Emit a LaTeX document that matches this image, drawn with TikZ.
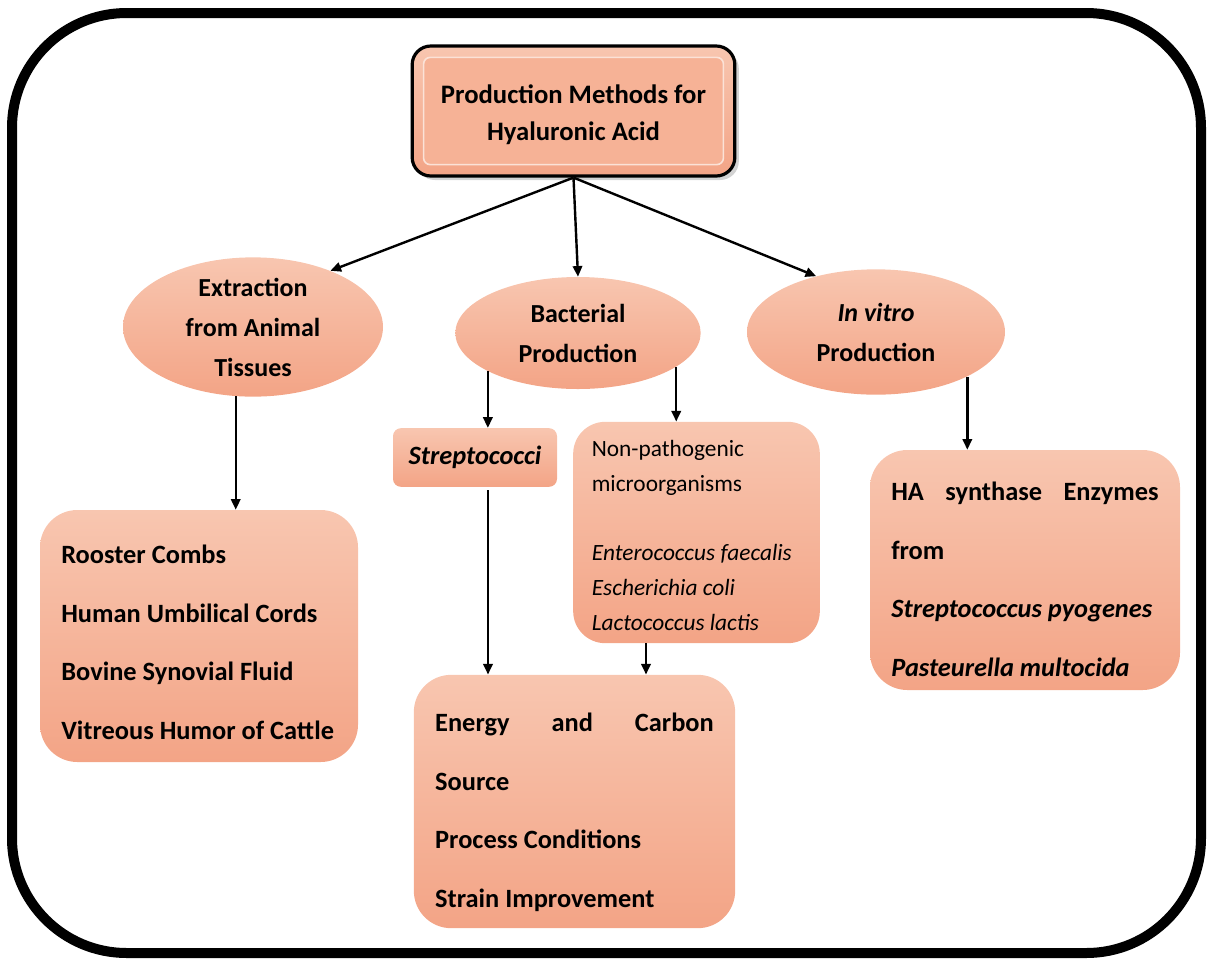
\documentclass[tikz,border=0pt]{standalone}
\usepackage{fontspec}
\setmainfont{Carlito}
\usetikzlibrary{arrows.meta,shapes.geometric,shadows,calc}
\definecolor{salL}{RGB}{248,198,176}
\definecolor{salD}{RGB}{243,164,134}
\definecolor{salM}{RGB}{246,178,150}
\begin{document}
\begin{tikzpicture}[x=0.75pt,y=-0.75pt,
  fillsal/.style={top color=salL,bottom color=salD},
  card/.style={fillsal, rounded corners=28pt, inner xsep=16pt, inner ysep=0pt, align=flush left, anchor=center,
     font=\bfseries\fontsize{19.8}{44}\selectfont},
  oval/.style={ellipse, fillsal, inner sep=0pt, align=center, minimum width=195pt, minimum height=94pt,
     font=\bfseries\fontsize{19.5}{30}\selectfont},
  arr/.style={-{Triangle[length=8pt,width=7pt]}, line width=1.8pt},
]
\useasboundingbox (0,0) rectangle (1208,958);
% outer frame
\draw[line width=7.5pt, rounded corners=86pt] (12,13) rectangle (1201,953);

% title box
\node[fillsal, draw=black, line width=2.4pt, rounded corners=14pt, minimum width=242pt, minimum height=97.5pt,
  drop shadow={shadow xshift=3pt, shadow yshift=-3pt, opacity=0.35}] (top) at (573.5,111) {};
\draw[fill=salM, draw=salL!50!white, line width=1.2pt, rounded corners=5pt]
  ($(top.north west)+(13,13)$) rectangle ($(top.south east)+(-13,-13)$);
\node[align=center, font=\bfseries\fontsize{20}{28}\selectfont] (toptext) at ($(top.center)+(0,4)$)
  {Production Methods for\\Hyaluronic Acid};

% ellipses
\node[oval] (ext) at (253,327) {Extraction\\from Animal\\Tissues};
\node[oval, minimum width=184pt, minimum height=84pt] (bac) at (578,333) {Bacterial\\Production};
\node[oval, minimum width=193.5pt] (inv) at (876,332) {\textit{In vitro}\\Production};

% boxes
\node[card, text width=206.5pt, minimum height=189pt] (roo) at (199,636)
  {\rule{0pt}{23.5pt}Rooster Combs\\Human Umbilical Cords\\Bovine Synovial Fluid\\Vitreous Humor of Cattle};
\node[fillsal, rounded corners=6pt, minimum width=123pt, minimum height=44pt, inner sep=0pt,
  font=\bfseries\fontsize{19.8}{24}\selectfont] (strep) at (475,457.5) {\textit{Streptococci}};
\node[card, rounded corners=24pt, inner xsep=14pt, text width=157pt, minimum height=166pt,
  font=\fontsize{17.5}{26}\selectfont] (np) at (696.5,532.5)
  {\rule{0pt}{16.6pt}Non-pathogenic\\microorganisms\\[26pt]\textit{Enterococcus faecalis}\\\textit{Escherichia coli}\\\textit{Lactococcus lactis}};
\node[card, text width=209pt, minimum height=190pt] (en) at (574.5,801.5)
  {\hbox to 209pt{\rule{0pt}{30pt}Energy\hfill and\hfill Carbon}\\Source\\Process Conditions\\Strain Improvement};
\node[card, text width=200.5pt, minimum height=180pt] (ha) at (1025,570)
  {\hbox to 200.5pt{\rule{0pt}{27.7pt}HA\hfill synthase\hfill Enzymes}\\from\\\textit{Streptococcus pyogenes}\\\textit{Pasteurella multocida}};

% connectors
\draw[arr] (top.south) -- (ext.36);
\draw[arr] (top.south) -- (bac.north);
\draw[arr] (top.south) -- (inv.137);
\draw[arr] (ext.256) -- (ext.256 |- roo.north);
\draw[arr] (bac.203) -- (bac.203 |- strep.north);
\draw[arr] (bac.-19) -- (bac.-19 |- np.north);
\draw[arr] (inv.-26) -- (inv.-26 |- ha.north);
\coordinate (sx) at ($(strep.south)+(13,3)$);
\draw[arr] (sx) -- (sx |- en.north);
\coordinate (nx) at ($(np.south)+(-50.5,0)$);
\draw[arr] (nx) -- (nx |- en.north);
\end{tikzpicture}
\end{document}
